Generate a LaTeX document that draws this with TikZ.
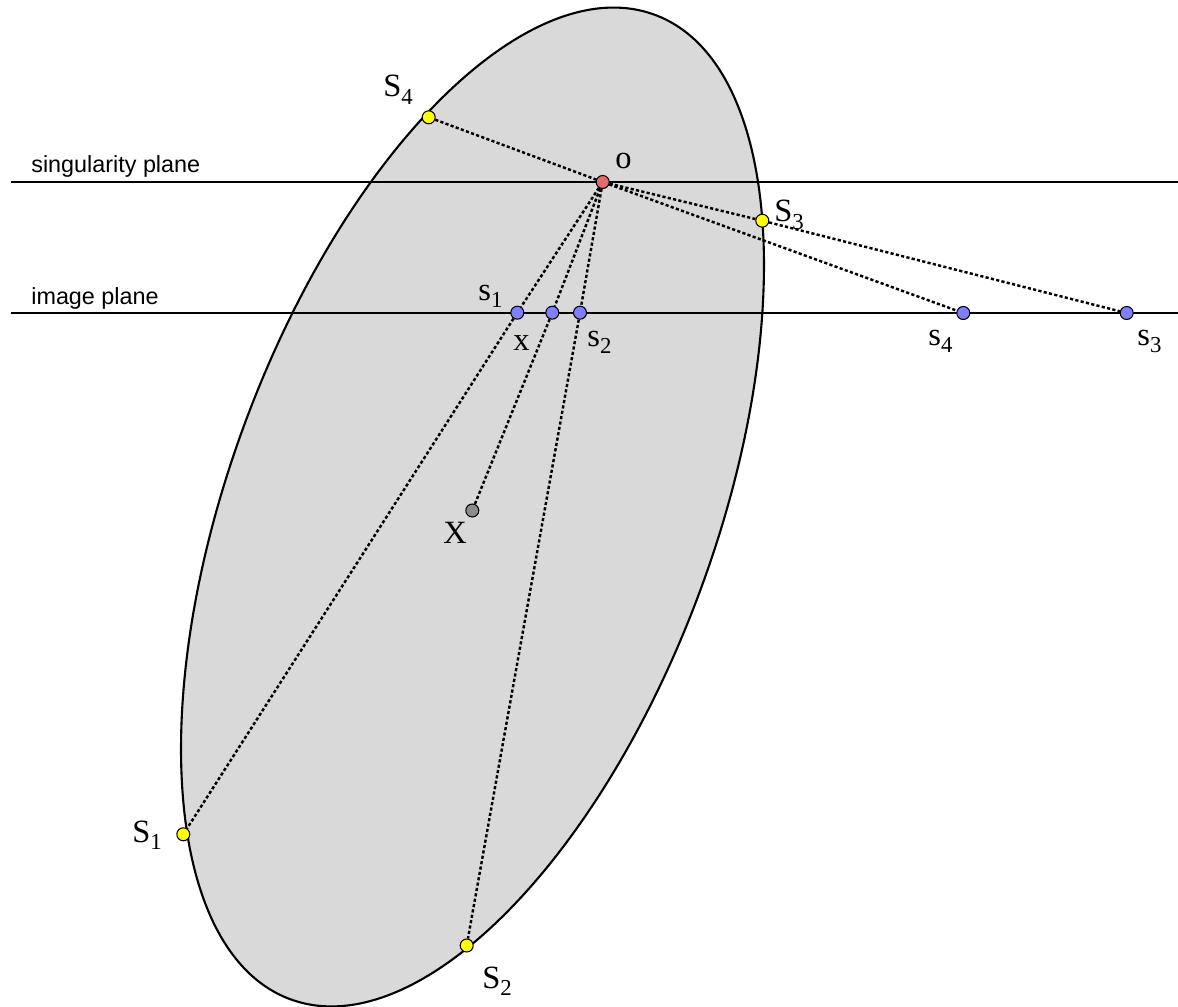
\documentclass[tikz,border=0pt]{standalone}
\usepackage{fontspec}
\setmainfont{Liberation Serif}
\newfontfamily\planefont{Liberation Sans}
\usepackage{xcolor}
\usepackage{tikz}
\usetikzlibrary{backgrounds}
\definecolor{LensGrey}{HTML}{D9D9D9}
\definecolor{PointYellow}{HTML}{FFFF00}
\definecolor{PointBlue}{HTML}{8080FF}
\definecolor{PointRed}{HTML}{E56B6B}
\definecolor{PointGrey}{HTML}{8C8C8C}
\newcommand{\idx}[1]{\raisebox{-0.22em}{\fontsize{13}{14}\selectfont #1}}

\begin{document}
\begin{tikzpicture}[x=0.02cm, y=-0.02cm,
    pt/.style={circle, draw=black, line width=0.6pt, inner sep=0pt, minimum size=0.26cm},
    ray/.style={line width=1.4pt, dash pattern=on 1.8pt off 1.3pt},
    plane/.style={line width=1.1pt},
    lbl/.style={anchor=base west, inner sep=0pt, font=\fontsize{18.5}{20}\selectfont},
    planelbl/.style={anchor=base west, inner sep=0pt, font=\planefont\fontsize{13.3}{15}\selectfont}]
  \useasboundingbox (0,0) rectangle (1178,1007);
  % points on the mirror, the centre and the image plane
  \foreach \name/\px/\py/\col in {
      O/602.7/182/PointRed,
      S1/183.3/834.3/PointYellow, S2/466.7/945.5/PointYellow,
      S3/762.3/220.7/PointYellow, S4/428.7/117.3/PointYellow,
      s1/517.3/312.7/PointBlue, s2/580/312.7/PointBlue,
      s3/1126.7/313/PointBlue, s4/963.3/313/PointBlue,
      x/552.3/312.7/PointBlue, X/472.3/510.5/PointGrey}{
    \node[pt, fill=\col] (\name) at (\px,\py) {};
  }
  % labels
  \foreach \name/\px/\py/\txt in {
      O/615/169/{o},
      S1/132/842/{S\idx{1}}, S2/482/988/{S\idx{2}},
      S3/774/222/{S\idx{3}}, S4/383/97/{S\idx{4}},
      s1/478/300/{s\idx{1}}, s2/587/346/{s\idx{2}},
      s3/1137/345/{s\idx{3}}, s4/928/345/{s\idx{4}},
      x/513/351/{x}, X/443/543/{X}}{
    \node[lbl] (l\name) at (\px,\py) {\txt};
  }
  \node[planelbl] (singlbl) at (31,173) {singularity plane};
  \node[planelbl] (imglbl) at (31,304) {image plane};
  \coordinate (singL) at (11,182);
  \coordinate (singR) at (1178,182);
  \coordinate (imgL) at (11,313);
  \coordinate (imgR) at (1178,313);

  \begin{scope}[on background layer]
    \filldraw[fill=LensGrey, draw=black, line width=1.2pt,
      rotate around={69.68:(472.5,507)}]
      (472.5,507) ellipse [x radius=10.5cm, y radius=4.852cm];
    \draw[plane] (singL) -- (singR);
    \draw[plane] (imgL) -- (imgR);
    \foreach \a/\b in {S4/O, O/s4, O/S3, S3/s3, O/s1, s1/S1, O/x, x/X, O/s2, s2/S2}{
      \draw[ray] (\a) -- (\b);
    }
  \end{scope}
\end{tikzpicture}
\end{document}
